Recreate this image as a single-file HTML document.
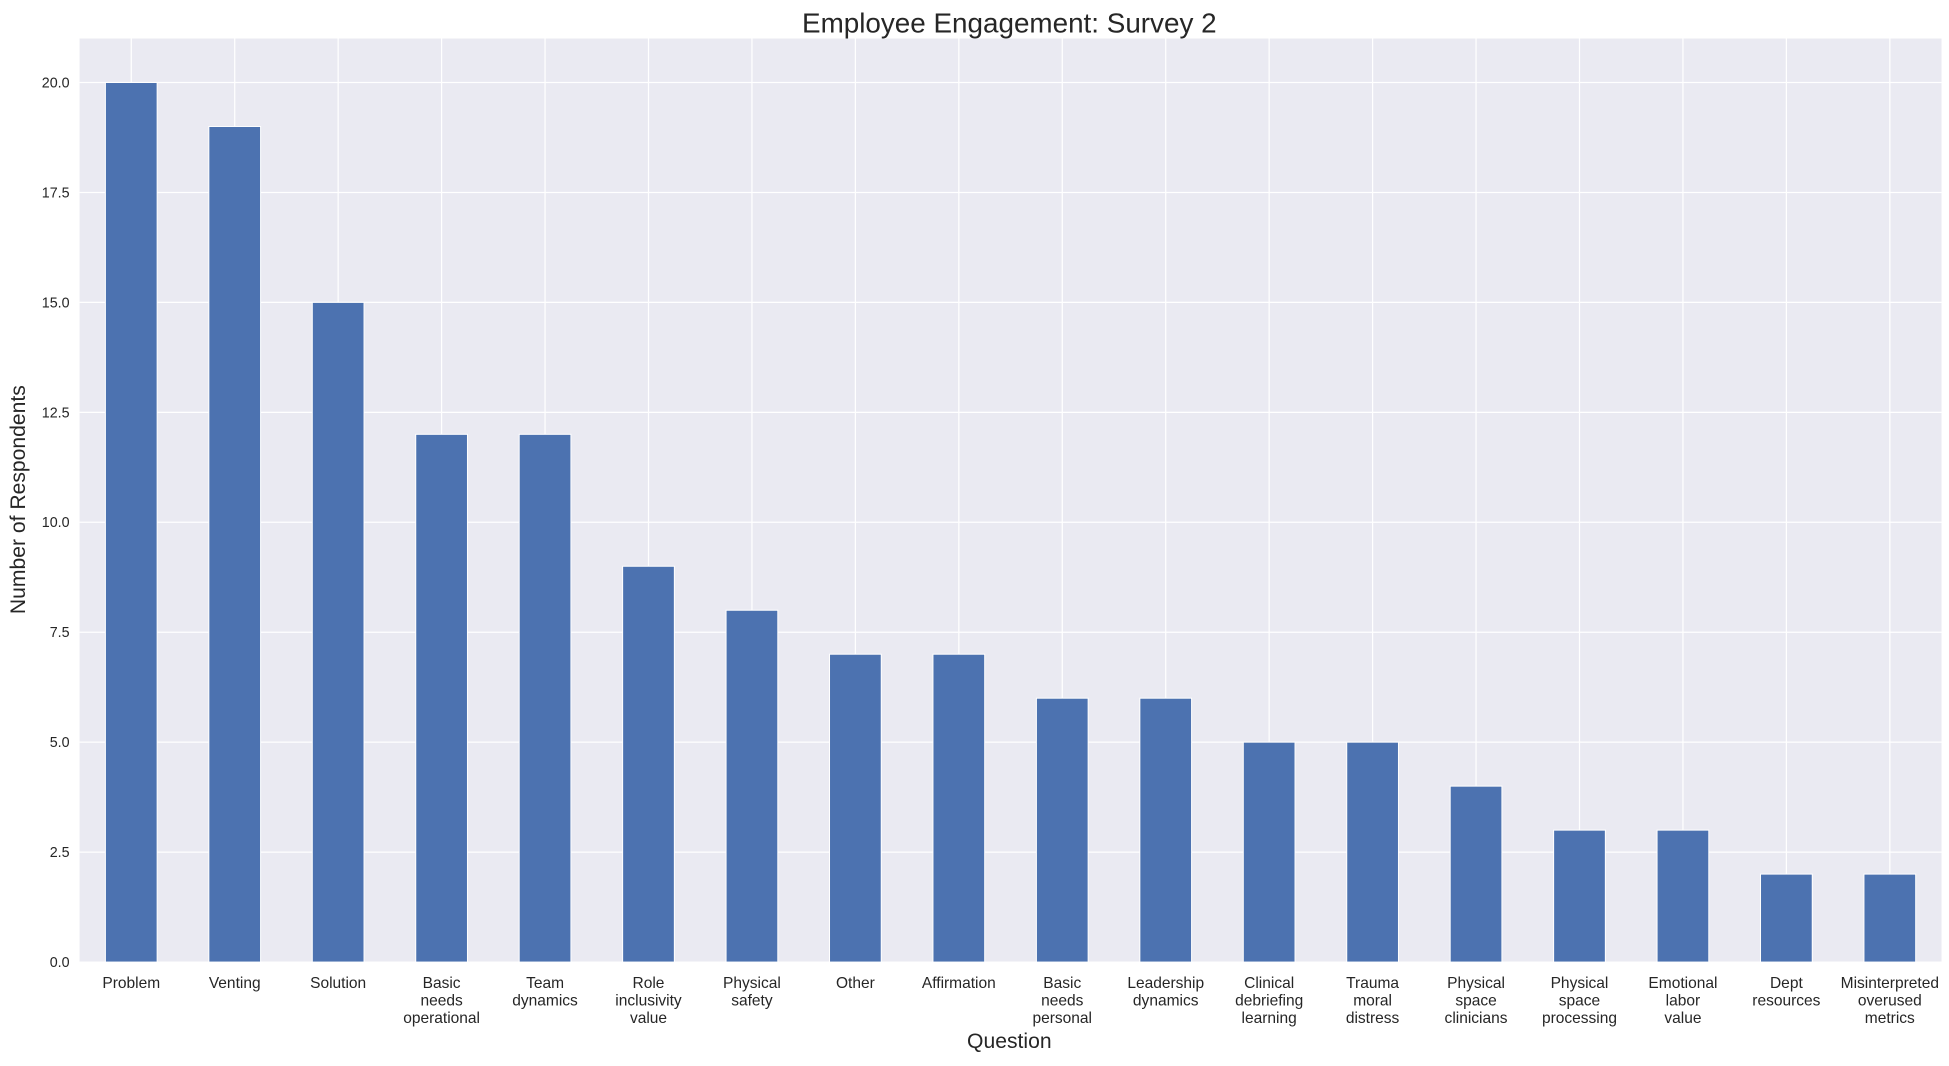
<!DOCTYPE html>
<html><head><meta charset="utf-8"><style>
body{margin:0;background:#fff;font-family:"Liberation Sans",Arial,sans-serif;overflow:hidden;}
svg text{font-family:"Liberation Sans",Arial,sans-serif;}
</style></head><body>
<svg id="chart" width="1949" height="1061" viewBox="0 0 1568 853.6" preserveAspectRatio="none" xmlns="http://www.w3.org/2000/svg">
<rect x="0" y="0" width="1568" height="854" fill="#fff"/>
<rect x="64" y="31" width="1498" height="743" fill="#eaeaf2"/>
<g id="grid"></g><g id="bars"></g><g id="xt"></g><g id="yt"></g>
<text x="812" y="26" font-size="22.4" text-anchor="middle" fill="#262626">Employee Engagement: Survey 2</text>
<text x="812" y="843" font-size="17" text-anchor="middle" fill="#262626">Question</text>
<text transform="translate(20,402) rotate(-90)" font-size="17" text-anchor="middle" fill="#262626">Number of Respondents</text>
</svg>
<script>
const categories=[["Problem"],["Venting"],["Solution"],["Basic","needs","operational"],["Team","dynamics"],["Role","inclusivity","value"],["Physical","safety"],["Other"],["Affirmation"],["Basic","needs","personal"],["Leadership","dynamics"],["Clinical","debriefing","learning"],["Trauma","moral","distress"],["Physical","space","clinicians"],["Physical","space","processing"],["Emotional","labor","value"],["Dept","resources"],["Misinterpreted","overused","metrics"]];
const values=[20,19,15,12,12,9,8,7,7,6,6,5,5,4,3,3,2,2];
const yTicks=[0,2.5,5,7.5,10,12.5,15,17.5,20];
const yTickLabels=["0.0","2.5","5.0","7.5","10.0","12.5","15.0","17.5","20.0"];
const NS="http://www.w3.org/2000/svg";
const L=64,R=1562,T=31,B=774,YMAX=21;
const step=(R-L)/categories.length;
const xc=i=>L+step*(i+0.5);
const y=v=>B-(v/YMAX)*(B-T);
function mk(tag,attrs,parent){const e=document.createElementNS(NS,tag);for(const k in attrs)e.setAttribute(k,attrs[k]);parent.appendChild(e);return e;}
const grid=document.getElementById('grid'),bars=document.getElementById('bars'),xt=document.getElementById('xt'),yt=document.getElementById('yt');
yTicks.forEach((t,i)=>{
 const g=mk('line',{x1:L,x2:R,y1:y(t),y2:y(t),stroke:'#fff','stroke-width':1},grid);
 
 
 const tx=mk('text',{x:L-8,y:y(t)+4,'font-size':11.5,'text-anchor':'end',fill:'#262626'},yt);
 tx.textContent=yTickLabels[i];
 
 
});
categories.forEach((c,i)=>{
 const g=mk('line',{x1:xc(i),x2:xc(i),y1:T,y2:B,stroke:'#fff','stroke-width':1},grid);
 
 
 const bw=step*0.5;
 const r=mk('rect',{x:xc(i)-bw/2,y:y(values[i]),width:bw,height:B-y(values[i]),fill:'#4c72b0',stroke:'#fff','stroke-width':0.8},bars);
 
 
 const tx=mk('text',{x:xc(i),y:795,'font-size':12.5,'text-anchor':'middle',fill:'#262626'},xt);
 
 
 c.forEach((w,j)=>{const s=mk('tspan',{x:xc(i),dy:j?14:0},tx);s.textContent=w;});
});
</script>
</body></html>
